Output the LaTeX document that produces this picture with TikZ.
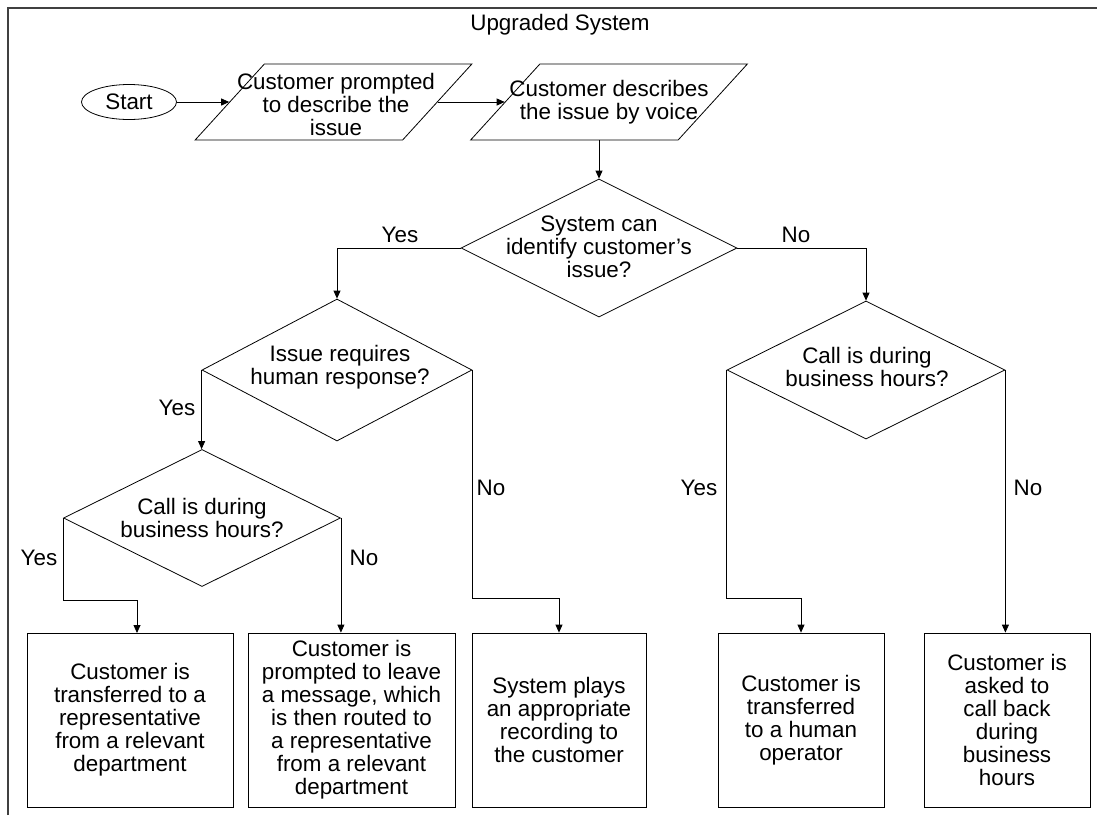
\documentclass[tikz,border=0pt]{standalone}
\usepackage{fontspec}
\setmainfont{Liberation Sans}
\usetikzlibrary{shapes.geometric,arrows.meta,calc}
\begin{document}
\begin{tikzpicture}[x=1pt,y=-1pt,
  every node/.style={font=\fontsize{22.4}{23}\selectfont, align=center, inner sep=0pt},
  shp/.style={draw, line width=0.8pt},
  ell/.style={shp, ellipse, minimum width=95pt, minimum height=35pt},
  para/.style={shp, trapezium, trapezium left angle=63.4, trapezium right angle=116.6,
    trapezium stretches=true, minimum width=277pt, minimum height=76pt, inner sep=6pt},
  dia/.style={shp, diamond, inner sep=6pt},
  box/.style={shp, rectangle, minimum height=174pt},
  conn/.style={line width=0.8pt, -{Triangle[length=8pt,width=7pt]}},
  lbl/.style={}
]
\useasboundingbox (0,0) rectangle (1097,815);
% frame
\draw[line width=1.6pt, black!75] (8,815) -- (8,8) -- (1097,8);
\node (title) at (560,25) {Upgraded System};

% top row
\node[ell] (start) at (129,102) {Start};
\node[para] (p1) at (333.5,102) {};
\node (p1t) at (336,104) {Customer prompted\\to describe the\\issue};
\node[para] (p2) at (609,102) {};
\node (p2t) at (609,102) {Customer describes\\the issue by voice};

% diamonds
\node[dia, minimum width=276pt, minimum height=138pt] (d1) at (599,248) {};
\node (d1t) at (599,247) {System can\\identify customer’s\\issue?};
\node[dia, minimum width=270pt, minimum height=142pt] (d2) at (337,370) {};
\node (d2t) at (340,367) {Issue requires\\human response?};
\node[dia, minimum width=278pt, minimum height=138pt] (d3) at (866,370) {};
\node (d3t) at (867,367) {Call is during\\business hours?};
\node[dia, minimum width=277pt, minimum height=137pt] (d4) at (202,518) {};
\node (d4t) at (202,518) {Call is during\\business hours?};

% boxes
\node[box, minimum width=206pt] (b1) at (130,720) {Customer is\\transferred to a\\representative\\from a relevant\\department};
\node[box, minimum width=207pt] (b2) at (351.5,720) {Customer is\\prompted to leave\\a message, which\\is then routed to\\a representative\\from a relevant\\department};
\node[box, minimum width=174pt] (b3) at (559,720) {System plays\\an appropriate\\recording to\\the customer};
\node[box, minimum width=166pt] (b4) at (801,720) {Customer is\\transferred\\to a human\\operator};
\node[box, minimum width=166pt] (b5) at (1007,720) {Customer is\\asked to\\call back\\during\\business\\hours};

% labels
\node[lbl] (y1) at (400,235) {Yes};
\node[lbl] (n1) at (796,235) {No};
\node[lbl] (y2) at (177,408) {Yes};
\node[lbl] (n2) at (491,488) {No};
\node[lbl] (y4) at (39,558) {Yes};
\node[lbl] (n4) at (364,558) {No};
\node[lbl] (y3) at (699,488) {Yes};
\node[lbl] (n3) at (1028,488) {No};

% elbow coordinates
\coordinate (t1) at (137,633);
\coordinate (k1) at (137,600);
\coordinate (k3) at (559,598);
\coordinate (k4) at (801,598);

% connectors
\draw[conn] (start) -- (p1);
\draw[conn] (p1) -- (p2);
\draw[conn] (p2.south -| d1.north) -- (d1.north);
\draw[conn] (d1.west) -| (d2.north);
\draw[conn] (d1.east) -| (d3.north);
\draw[conn] (d2.west) -- (d2.west |- d4.north);
\draw[conn] (d2.east) |- (k3) -- (b3.north);
\draw[conn] (d4.west) |- (k1) -- (t1);
\draw[conn] (d4.east) -- (d4.east |- b2.north);
\draw[conn] (d3.west) |- (k4) -- (b4.north);
\draw[conn] (d3.east) -- (d3.east |- b5.north);
\end{tikzpicture}
\end{document}
